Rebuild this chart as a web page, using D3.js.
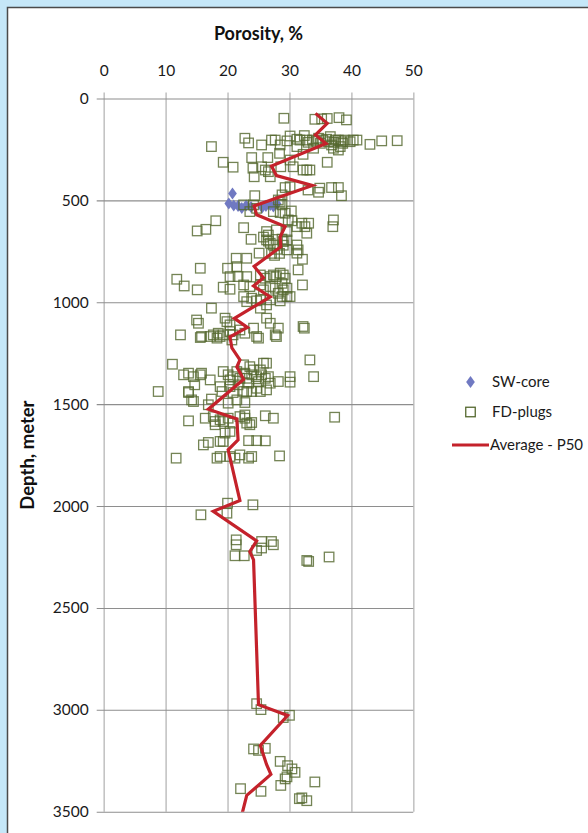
<!DOCTYPE html>
<html>
<head>
<meta charset="utf-8">
<script src="https://cdn.jsdelivr.net/npm/d3@7"></script>
<style>
  html, body { margin: 0; padding: 0; background: #c5e7f8; }
  svg { display: block; font-family: Lato, Carlito, Calibri, "Open Sans", sans-serif; }
</style>
</head>
<body>
<svg id="chart" width="588" height="833"></svg>
<script>
// Axis ticks
const porosityTicks = [0, 10, 20, 30, 40, 50];
const depthTicks = [0, 500, 1000, 1500, 2000, 2500, 3000, 3500];

// Sidewall cores: [porosity %, depth m]
const swCore = [
  [20.8,466],[20.2,515],[21.0,525],[21.7,527],[22.3,537],[23.0,525],
  [23.8,532],[25.6,535],[26.2,527],[26.9,522],[27.4,530],[28.0,517]
];

// Formation-density plugs: [porosity %, depth m]
const fdPlugs = [
  [29.1,97],[34.1,102],[35.2,100],[36.1,98],[38.0,94],[39.2,105],
  [22.8,195],[23.4,218],[25.5,228],[17.4,236],[27.7,204],[28.5,228],[29.6,208],[31.2,200],
  [31.2,236],[32.4,182],[32.8,204],[33.9,244],[34.7,195],[36.3,212],[36.6,187],[36.8,228],
  [37.1,244],[37.9,204],[38.4,212],[39.0,204],[39.8,212],[40.3,204],[40.9,204],[38.2,236],
  [37.9,253],[43.0,225],[44.9,208],[47.4,207],[30.1,184],[35.4,204],[37.4,204],[33.7,204],
  [31.7,204],[33.0,215],[35.0,220],[36.0,200],[37.2,215],[38.6,220],[34.3,210],[27.1,204],
  [32.2,274],
  [19.3,313],[20.9,337],[23.9,290],[24.1,342],[24.3,384],[26.5,290],[25.5,335],[26.1,351],
  [26.6,359],[26.9,384],[28.6,335],[30.1,302],[30.6,335],[32.2,351],[32.8,351],[33.3,351],
  [36.1,313],[28.4,269],
  [24.4,477],[29.3,437],[30.1,433],[34.9,440],[34.7,460],[36.8,437],[37.9,437],[38.4,477],
  [33.0,449],[28.8,473],[28.2,498],[28.5,506],
  [24.2,522],[24.7,539],[27.4,555],[29.3,563],[30.3,552],[29.8,596],[28.5,560],[22.6,522],
  [23.6,555],[28.8,522],
  [18.1,600],[16.5,642],[15.1,650],[22.6,634],[23.8,691],[26.3,653],[26.6,670],[26.3,694],
  [26.9,710],[27.9,645],[29.6,653],[29.0,702],[29.6,694],[30.4,600],[31.2,629],[32.0,612],
  [32.5,629],[33.1,612],[32.8,661],[37.1,596],[37.0,629],[31.2,719],[31.4,743],[31.2,759],
  [29.6,743],[32.1,789],[25.1,759],[23.1,784],[21.4,784],[25.8,680],[26.6,700],[27.4,719],
  [28.0,740],[27.1,760],[28.8,690],[29.0,720],[28.4,760],[27.6,770],
  [15.6,833],[11.8,887],[13.0,920],[15.1,939],[20.0,833],[20.4,874],[21.5,825],[21.7,874],
  [19.3,926],[20.4,936],[23.1,874],[22.6,915],[23.6,923],[25.3,866],[26.1,882],[26.9,874],
  [27.4,866],[27.9,874],[28.5,857],[29.0,866],[29.3,882],[28.8,907],[29.6,931],[29.0,939],
  [28.2,956],[27.7,931],[26.9,923],[25.8,939],[25.3,915],[31.4,841],[32.1,915],[30.1,972],
  [28.8,972],[22.6,972],[25.3,988],
  [28.5,993],[29.6,972],[26.9,988],[24.7,993],[23.1,997],[23.9,980],[26.3,1013],[25.3,1029],
  [17.4,1029],[15.0,1087],[15.3,1103],[19.6,1078],[26.3,1078],[26.9,1103],[28.2,1127],
  [27.7,1160],[27.9,1168],[32.2,1119],[32.4,1127],[12.4,1160],[15.6,1173],[15.8,1168],
  [17.2,1168],[17.7,1160],[18.5,1152],[18.3,1176],[18.8,1168],[19.3,1160],[20.4,1144],
  [20.9,1160],[20.7,1185],[22.0,1136],[22.8,1152],[24.2,1127],[24.7,1168],[25.0,1176],
  [19.9,1095],[20.4,1111],
  [33.3,1283],[33.9,1365],[30.1,1365],[30.1,1392],[11.1,1304],[8.8,1438],[12.9,1356],
  [13.7,1348],[14.5,1365],[15.6,1356],[15.8,1348],[17.2,1381],[13.7,1438],[18.8,1414],
  [14.7,1405],[19.3,1340],[20.1,1356],[20.4,1381],[20.9,1365],[21.5,1340],[22.0,1373],
  [22.6,1307],[22.8,1348],[23.1,1373],[23.4,1397],[23.9,1356],[24.2,1332],[24.7,1365],
  [25.0,1389],[25.5,1356],[26.1,1373],[25.8,1299],[26.6,1365],[26.9,1397],[28.2,1389],
  [23.6,1316],[21.7,1405],[20.4,1414],[23.1,1438],[24.7,1422],[26.3,1299],[25.3,1332],
  [13.7,1443],[14.2,1479],[14.5,1487],[17.4,1475],[16.9,1503],[20.1,1495],[21.5,1479],
  [22.8,1492],[19.1,1438],[20.9,1443],[22.6,1438],[23.9,1438],[25.3,1438],[26.3,1430],
  [13.7,1582],[16.4,1569],[17.7,1561],[18.0,1585],[18.8,1577],[19.3,1585],[20.1,1569],
  [20.9,1593],[22.0,1561],[22.8,1553],[23.1,1593],[23.6,1601],[23.9,1590],[22.8,1569],
  [26.1,1557],[27.4,1569],[37.3,1564],[18.0,1601],[19.6,1642],[16.1,1700],[16.9,1688],
  [18.8,1683],[19.3,1683],[23.4,1679],[24.7,1679],[26.1,1680],[11.7,1765],[18.3,1765],
  [18.8,1757],[20.4,1757],[21.2,1765],[22.0,1749],[23.4,1765],[23.9,1757],[28.4,1754],
  [20.4,1634],
  [20.0,1986],[24.1,1994],[15.7,2043],[19.9,2035],[21.4,2166],[21.4,2190],[25.5,2174],
  [27.1,2174],[27.4,2190],[25.5,2206],[24.7,2218],[21.2,2244],[22.7,2244],[32.8,2267],
  [33.1,2272],[36.4,2250],
  [24.7,2970],[25.4,2999],[29.0,3038],[30.0,3027],[24.2,3192],[25.0,3199],[26.1,3189],
  [28.5,3253],[29.7,3274],[30.4,3290],[30.9,3307],[29.6,3329],[29.3,3339],[34.1,3354],
  [28.6,3371],[31.6,3436],[32.0,3432],[32.8,3446],[25.4,3400],[22.1,3387]
];

// Median (P50) porosity trend with depth: [porosity %, depth m]
const p50 = [
  [34.2,73],[36.1,122],[34.2,179],[35.9,221],[27.1,331],[27.9,378],[33.7,427],[24.3,527],
  [24.7,571],[29.3,628],[28.5,679],[28.6,728],[24.3,824],[25.8,880],[24.2,920],[26.9,974],
  [21.1,1079],[23.2,1123],[20.4,1170],[20.7,1224],[22.0,1283],[21.5,1317],[22.6,1378],
  [16.9,1525],[21.5,1573],[21.7,1675],[20.1,1724],[22.0,1973],[17.7,2026],[24.7,2171],
  [23.6,2224],[24.2,2264],[25.0,2975],[29.7,3028],[25.3,3175],[26.3,3268],[27.0,3317],
  [23.1,3420],[22.1,3540]
];

const legendItems = ["SW-core", "FD-plugs", "Average - P50"];

const svg = d3.select("#chart");

// Chart area with dark frame on the light-blue page
svg.append("rect")
  .attr("x", 7.5).attr("y", 7.5)
  .attr("width", 620).attr("height", 860)
  .attr("fill", "#ffffff")
  .attr("stroke", "#4a4a4a").attr("stroke-width", 1.5);

const plotLeft = 103.7, plotRight = 413.3, plotTop = 98.5, plotBottom = 811.7;
const x = d3.scaleLinear().domain([0, 50]).range([plotLeft, plotRight]);
const y = d3.scaleLinear().domain([0, 3500]).range([plotTop, plotBottom]);

// Vertical grid + top tick labels
const xAxis = svg.append("g")
  .attr("transform", `translate(0,${plotTop - 6})`)
  .call(d3.axisTop(x).tickValues(porosityTicks).tickSize(-(plotBottom - plotTop + 6)).tickPadding(17).tickFormat(d3.format("d")));
xAxis.select(".domain").remove();
xAxis.selectAll(".tick line").attr("stroke", "#c4c4c4").attr("stroke-width", 1.6);
xAxis.selectAll(".tick text").attr("fill", "#1a1a1a").style("font-size", "15.5px").style("font-family", "Lato, sans-serif");

// Horizontal grid + depth tick labels
const yAxis = svg.append("g")
  .attr("transform", `translate(${plotLeft - 7},0)`)
  .call(d3.axisLeft(y).tickValues(depthTicks).tickSize(-(plotRight - plotLeft + 7)).tickPadding(8).tickFormat(d3.format("d")));
yAxis.select(".domain").remove();
yAxis.selectAll(".tick line").attr("stroke", "#8e8e8e").attr("stroke-width", 1.1);
yAxis.selectAll(".tick text").attr("fill", "#1a1a1a").style("font-size", "15.5px").style("font-family", "Lato, sans-serif");

// Axis titles
svg.append("text")
  .attr("x", (plotLeft + plotRight) / 2).attr("y", 40)
  .attr("text-anchor", "middle")
  .style("font-weight", "bold").style("font-size", "18px").attr("fill", "#111")
  .text("Porosity, %");

svg.append("text")
  .attr("transform", `translate(34,${(plotTop + plotBottom) / 2}) rotate(-90)`)
  .attr("text-anchor", "middle")
  .style("font-weight", "bold").style("font-size", "18.5px").attr("fill", "#111")
  .text("Depth, meter");

// Clip marks to the plot area
svg.append("clipPath").attr("id", "plotClip")
  .append("rect").attr("x", plotLeft - 10).attr("y", plotTop - 10)
  .attr("width", plotRight - plotLeft + 20).attr("height", plotBottom - plotTop + 10);

const plot = svg.append("g").attr("clip-path", "url(#plotClip)");

const diamond = d3.symbol().type(d3.symbolDiamond).size(42);

plot.append("g").selectAll("path")
  .data(swCore).join("path")
  .attr("d", diamond)
  .attr("transform", d => `translate(${x(d[0])},${y(d[1])}) scale(1.25,1)`)
  .attr("fill", "#7079c2");

const sq = 9.5;
plot.append("g").selectAll("rect")
  .data(fdPlugs).join("rect")
  .attr("x", d => x(d[0]) - sq / 2)
  .attr("y", d => y(d[1]) - sq / 2)
  .attr("width", sq).attr("height", sq)
  .attr("fill", "none")
  .attr("stroke", "#55692f").attr("stroke-opacity", 0.82).attr("stroke-width", 1.3);

const line = d3.line().x(d => x(d[0])).y(d => y(d[1]));
plot.append("path")
  .datum(p50)
  .attr("d", line)
  .attr("fill", "none")
  .attr("stroke", "#c4222b").attr("stroke-width", 3.2)
  .attr("stroke-linejoin", "miter");

// Legend
const lg = svg.append("g").style("font-size", "15px").attr("fill", "#1a1a1a");
const ly = [382, 412, 445];
lg.append("path").attr("d", diamond)
  .attr("transform", `translate(470.5,${ly[0]}) scale(1.25,1)`).attr("fill", "#7079c2");
lg.append("rect").attr("x", 470.5 - sq / 2).attr("y", ly[1] - sq / 2)
  .attr("width", sq).attr("height", sq).attr("fill", "none")
  .attr("stroke", "#55692f").attr("stroke-width", 1.3);
lg.append("line").attr("x1", 452).attr("x2", 489).attr("y1", ly[2]).attr("y2", ly[2])
  .attr("stroke", "#c4222b").attr("stroke-width", 3);
legendItems.forEach((t, i) => {
  lg.append("text").attr("x", i === 2 ? 490 : 492).attr("y", ly[i]).attr("dy", "0.35em").text(t);
});
</script>
</body>
</html>
